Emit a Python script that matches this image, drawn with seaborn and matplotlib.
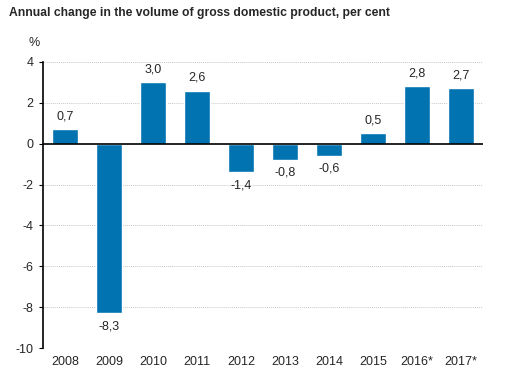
import matplotlib
matplotlib.use('Agg')
import matplotlib.pyplot as plt
import seaborn as sns
import pandas as pd

# Data
years = ['2008', '2009', '2010', '2011', '2012', '2013', '2014', '2015', '2016*', '2017*']
change = [0.7, -8.3, 3.0, 2.6, -1.4, -0.8, -0.6, 0.5, 2.8, 2.7]
yticks = [4, 2, 0, -2, -4, -6, -8, -10]

df = pd.DataFrame({'year': years, 'change': change})

sns.set_style('white')
plt.rcParams['font.family'] = ['Liberation Sans', 'DejaVu Sans']

fig = plt.figure(figsize=(5.24, 3.74), dpi=100)
ax = fig.add_axes([0.082, 0.0695, 0.84, 0.765])

sns.barplot(data=df, x='year', y='change', color='#0073B0', width=0.6,
            saturation=1, ax=ax, zorder=3)

ax.set_ylim(-10, 4)
ax.set_xlim(-0.5, 9.5)
ax.set_yticks(yticks)
ax.set_yticklabels([str(t) for t in yticks])
for t in yticks:
    if t != 0:
        ax.axhline(t, color='#c8c8c8', lw=0.7, ls=(0, (1, 1)), zorder=1)
ax.axhline(0, color='black', lw=1.2, zorder=4)

for s in ['top', 'right', 'bottom']:
    ax.spines[s].set_visible(False)
ax.spines['left'].set_color('black')
ax.spines['left'].set_linewidth(1.2)
ax.tick_params(axis='y', length=3, width=0.8, color='black', labelsize=9, pad=4, left=True)
ax.tick_params(axis='x', length=0, labelsize=9, pad=6)
ax.set_xlabel('')
ax.set_ylabel('')

# value labels
for i, v in enumerate(change):
    label = f'{v:.1f}'.replace('.', ',')
    if v >= 0:
        ax.annotate(label, (i, v), xytext=(0, 5), textcoords='offset points',
                    ha='center', va='bottom', fontsize=9)
    else:
        ax.annotate(label, (i, v), xytext=(0, -5), textcoords='offset points',
                    ha='center', va='top', fontsize=9)

fig.text(0.065, 0.885, '%', fontsize=9, ha='center', va='center')
fig.text(0.018, 0.965, 'Annual change in the volume of gross domestic product, per cent',
         fontsize=8.7, fontweight='bold', ha='left', va='center')

fig.savefig('out.png', dpi=100)
